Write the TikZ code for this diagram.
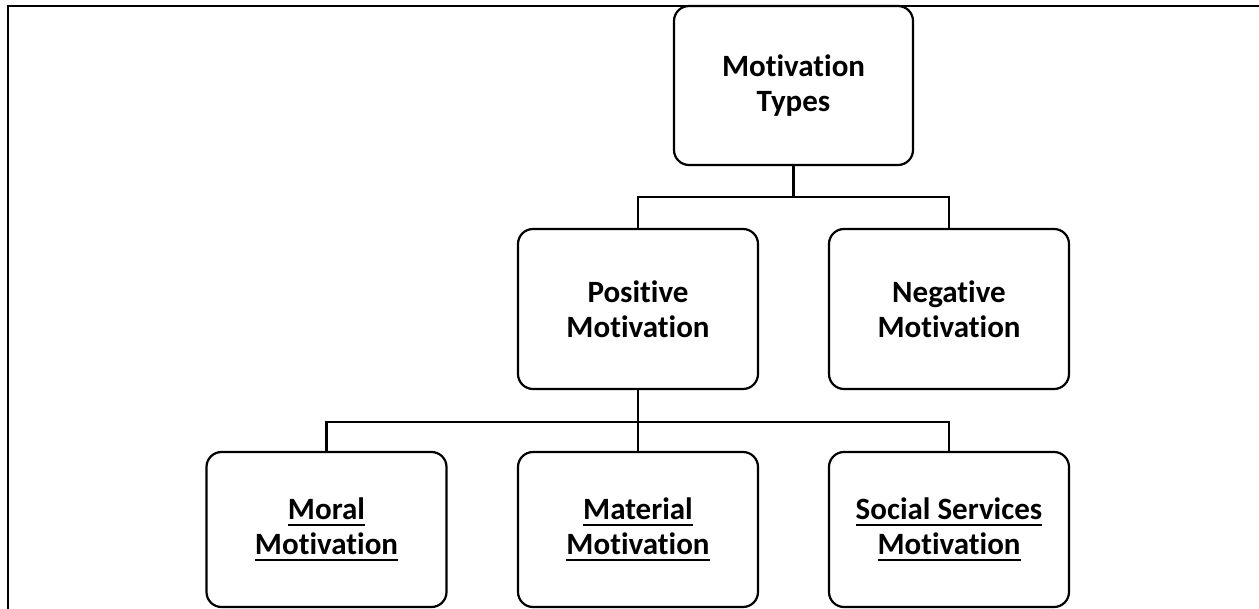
\documentclass[tikz,border=0pt]{standalone}
\usepackage{fontspec}
\setmainfont{Carlito}[Ligatures={NoCommon}]
\newcommand\myul[1]{\setbox0\hbox{#1}\rlap{\rule[-7pt]{\wd0}{2.2pt}}\box0}
\tikzset{
  box/.style={draw, line width=2.2pt, rounded corners=15pt, inner sep=0pt,
    minimum width=240pt, minimum height=160pt, align=center,
    font=\fontsize{31}{35}\selectfont\bfseries},
  conn/.style={line width=2.2pt},
  frame/.style={line width=2.2pt}
}
\begin{document}
\begin{tikzpicture}[x=1pt,y=-1pt]
\useasboundingbox (0,0) rectangle (1259,609);
\coordinate (ftl) at (8,6);
\coordinate (ftr) at (1259,6);
\coordinate (fbl) at (8,609);
\draw[frame] (ftr) -- (ftl) -- (fbl);
\node[box, minimum width=239pt, minimum height=159pt] (top) at (793.5,85.5) {Motivation\\Types};
\node[box] (pos) at (638,309) {Positive\\Motivation};
\node[box] (neg) at (949,309) {Negative\\Motivation};
\node[box, minimum height=155pt] (moral) at (326.5,529.5) {\myul{Moral}\\\myul{Motivation}};
\node[box, minimum height=155pt] (mat) at (638,529.5) {\myul{Material}\\\myul{Motivation}};
\node[box, minimum height=155pt] (soc) at (949,529.5) {\myul{Social Services}\\\myul{Motivation}};
\coordinate (j1) at (793.5,197);
\coordinate (j2) at (638,422);
\draw[conn] (top.south) -- (j1);
\draw[conn] (pos.north) -- (pos.north |- j1) -- (neg.north |- j1) -- (neg.north);
\draw[conn] (pos.south) -- (mat.north);
\draw[conn] (moral.north) -- (moral.north |- j2) -- (soc.north |- j2) -- (soc.north);
\end{tikzpicture}
\end{document}
